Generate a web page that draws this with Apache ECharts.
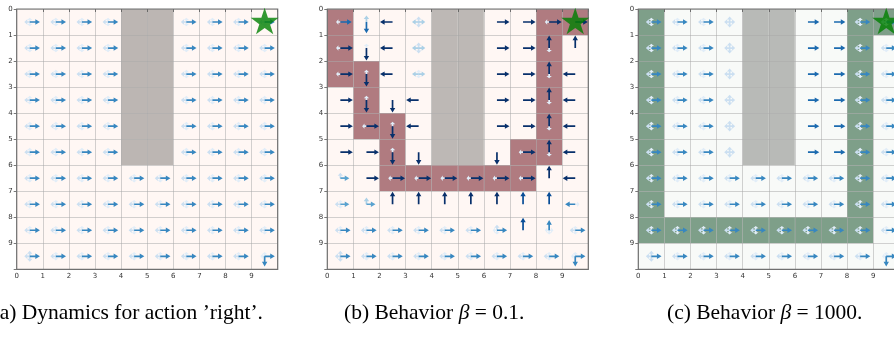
<!DOCTYPE html>
<html>
<head>
<meta charset="utf-8">
<script src="https://cdn.jsdelivr.net/npm/echarts@6/dist/echarts.min.js"></script>
<style>
  html, body { margin: 0; padding: 0; background: #ffffff; overflow: hidden; }
  #chart { width: 904px; height: 344px; }
</style>
</head>
<body>
<div id="chart"></div>
<script>
// Tick labels shown on both axes of every gridworld
const ticks = [0, 1, 2, 3, 4, 5, 6, 7, 8, 9];

// Goal cell [column, row]
const goal = [9, 0];

// Cell layouts: '.' free cell, '#' wall, 'x' highlighted trajectory cell
const layoutA = [
  '....##....', '....##....', '....##....', '....##....', '....##....',
  '....##....', '..........', '..........', '..........', '..........'
];
const layoutB = [
  'x...##..xx', 'x...##..x.', 'xx..##..x.', '.x..##..x.', '.xx.##..x.',
  '..x.##.xx.', '..xxxxxx..', '..........', '..........', '..........'
];
const layoutC = [
  'x...##..xx', 'x...##..x.', 'x...##..x.', 'x...##..x.', 'x...##..x.',
  'x...##..x.', 'x.......x.', 'x.......x.', 'xxxxxxxxx.', '..........'
];

// Arrow strengths per cell, four digits for up / down / left / right (0 = no arrow, 9 = strongest)
const arrowsA = [
  '1126 1126 1126 1126 ---- ---- 1126 1126 1126 1126',
  '1126 1126 1126 1126 ---- ---- 1126 1126 1126 1126',
  '1126 1126 1126 1126 ---- ---- 1126 1126 1126 1126',
  '1126 1126 1126 1126 ---- ---- 1126 1126 1126 1126',
  '1126 1126 1126 1126 ---- ---- 1126 1126 1126 1126',
  '1126 1126 1126 1126 ---- ---- 1126 1126 1126 1126',
  '1126 1126 1126 1126 1126 1126 1126 1126 1126 1126',
  '1126 1126 1126 1126 1126 1126 1126 1126 1126 1126',
  '1126 1126 1126 1126 1126 1126 1126 1126 1126 1126',
  '2226 1126 1126 1126 1126 1126 1126 1126 1126 1616'
];
const arrowsB = [
  '0017 3700 0090 2233 ---- ---- 0009 0009 0019 0009',
  '0019 1900 0090 2233 ---- ---- 0009 0009 9100 9000',
  '0019 1900 0090 1133 ---- ---- 0009 0009 9100 0090',
  '0009 1900 0900 0090 ---- ---- 0009 0009 9100 0090',
  '0009 0019 1900 0090 ---- ---- 0009 0009 9100 0090',
  '0009 0009 1900 0900 ---- ---- 0900 0019 9100 0090',
  '2005 0009 0019 0019 0019 0019 0019 0019 9000 0090',
  '1125 3005 9000 9000 9000 9000 9000 8000 8000 0061',
  '1126 1126 1126 1126 1126 1126 2116 8000 6111 1126',
  '2226 1126 1126 1126 1126 1126 1126 1126 1126 1616'
];
const arrowsC = [
  '1126 1126 1126 2222 ---- ---- 0007 0007 1126 1126',
  '1126 1126 1126 2222 ---- ---- 0007 0007 1126 1126',
  '1126 1126 1126 2222 ---- ---- 0007 0007 1126 1126',
  '1126 1126 1126 2222 ---- ---- 0007 0007 1126 1126',
  '1126 1126 1126 2222 ---- ---- 0007 0007 1126 1126',
  '1126 1126 1126 2222 ---- ---- 0007 0007 1126 1126',
  '1126 1126 1126 1126 1126 1126 1126 1126 1126 1126',
  '1126 1126 1126 1126 1126 1126 1126 1126 1126 1126',
  '1126 1126 1126 1126 1126 1126 1126 1126 1126 1126',
  '2226 1126 1126 1126 1126 1126 1126 1126 1126 1616'
];

// Panel captions
const captionA = '(a) Dynamics for action \u2019right\u2019.';
const captionB = ['(b) Behavior ', '\u03b2', ' = 0.1.'];
const captionC = ['(c) Behavior ', '\u03b2', ' = 1000.'];

// ---- drawing ----
const panels = [
  { layout: layoutA, arrows: arrowsA, left: 16.7,  fills: { '.': '#fff7f4', '#': '#bcb6b3', 'x': '#b07b80' } },
  { layout: layoutB, arrows: arrowsB, left: 327.3, fills: { '.': '#fff7f4', '#': '#bdb8b5', 'x': '#b07b80' } },
  { layout: layoutC, arrows: arrowsC, left: 638.3, fills: { '.': '#f8faf8', '#': '#b8bab7', 'x': '#7e9f89' } }
];

const BLUES = ['#f7fbff', '#deebf7', '#c6dbef', '#9ecae1', '#6baed6', '#4292c6', '#2171b5', '#08519c', '#08306b'];
function hexRgb(h) { return [1, 3, 5].map(i => parseInt(h.substr(i, 2), 16)); }
function blues(p) {
  const t = Math.max(0, Math.min(1, p)) * 8;
  const i = Math.min(7, Math.floor(t));
  const f = t - i;
  const a = hexRgb(BLUES[i]), b = hexRgb(BLUES[i + 1]);
  return 'rgb(' + a.map((v, k) => Math.round(v + (b[k] - v) * f)).join(',') + ')';
}

const DIRS = [[0, -1], [0, 1], [-1, 0], [1, 0]]; // up, down, left, right (rows grow downward)

function cellData(layout) {
  const out = [];
  layout.forEach((row, r) => row.split('').forEach((ch, c) => out.push([c, r, '.#x'.indexOf(ch)])));
  return out;
}
function arrowData(rows) {
  const out = [];
  rows.forEach((row, r) => row.split(' ').forEach((tok, c) => {
    if (tok === '----') return;
    tok.split('').forEach((ch, k) => {
      const d = +ch;
      if (d > 0) out.push([c + 0.5, r + 0.5, DIRS[k][0], DIRS[k][1], d]);
    });
  }));
  out.sort((a, b) => a[4] - b[4]);
  return out;
}

function starPath() {
  const R = 50, rIn = R * 0.381966, pts = [];
  for (let k = 0; k < 10; k++) {
    const ang = (-90 + 36 * k) * Math.PI / 180;
    const rad = k % 2 === 0 ? R : rIn;
    pts.push((50 + rad * Math.cos(ang)).toFixed(2) + ' ' + (50 + rad * Math.sin(ang)).toFixed(2));
  }
  return 'path://M' + pts.join(' L') + ' Z';
}
const STAR = starPath();

const grids = [], xAxes = [], yAxes = [], series = [];
const axisLabelFmt = v => (ticks.indexOf(v) >= 0 ? String(v) : '');

panels.forEach((pn, i) => {
  grids.push({ left: pn.left, top: 9, width: 261, height: 260.3, show: true,
    borderColor: '#707070', borderWidth: 1.2, backgroundColor: 'transparent', z: 4 });
  const common = {
    gridIndex: i, type: 'value', min: 0, max: 10, interval: 1, z: 3,
    axisLine: { show: false },
    axisTick: { show: true, length: 3, lineStyle: { color: '#555', width: 0.8 } },
    splitLine: { show: true, lineStyle: { color: 'rgba(165,165,165,0.5)', width: 1 } },
    axisLabel: { fontSize: 7, color: '#333', fontFamily: 'DejaVu Sans', formatter: axisLabelFmt }
  };
  xAxes.push(Object.assign({}, common, { axisLabel: Object.assign({}, common.axisLabel, { margin: 3 }) }));
  yAxes.push(Object.assign({}, common, { inverse: true, axisLabel: Object.assign({}, common.axisLabel, { margin: 4 }) }));

  const fillList = ['.', '#', 'x'].map(k => pn.fills[k]);
  series.push({
    type: 'custom', xAxisIndex: i, yAxisIndex: i, z: 1, silent: true,
    encode: { x: 0, y: 1 },
    data: cellData(pn.layout),
    renderItem: (params, api) => {
      const c = api.value(0), r = api.value(1), t = api.value(2);
      const p0 = api.coord([c, r]), p1 = api.coord([c + 1, r + 1]);
      return { type: 'rect',
        shape: { x: Math.min(p0[0], p1[0]), y: Math.min(p0[1], p1[1]),
                 width: Math.abs(p1[0] - p0[0]), height: Math.abs(p1[1] - p0[1]) },
        style: { fill: fillList[t] } };
    }
  });

  series.push({
    type: 'custom', xAxisIndex: i, yAxisIndex: i, z: 5, silent: true,
    encode: { x: 0, y: 1 },
    data: arrowData(pn.arrows),
    renderItem: (params, api) => {
      const x = api.value(0), y = api.value(1), dx = api.value(2), dy = api.value(3), d = api.value(4);
      const L = Math.min(0.48, 0.12 + 0.045 * d);
      const p0 = api.coord([x, y]), p1 = api.coord([x + dx * L, y + dy * L]);
      const vx = p1[0] - p0[0], vy = p1[1] - p0[1];
      const len = Math.hypot(vx, vy) || 1;
      const ux = vx / len, uy = vy / len, nx = -uy, ny = ux;
      const w = 0.85, hw = 2.7, hl = Math.min(4.6, len * 0.55);
      const bx = p1[0] - ux * hl, by = p1[1] - uy * hl;
      const pts = [
        [p0[0] + nx * w, p0[1] + ny * w], [bx + nx * w, by + ny * w], [bx + nx * hw, by + ny * hw],
        [p1[0], p1[1]],
        [bx - nx * hw, by - ny * hw], [bx - nx * w, by - ny * w], [p0[0] - nx * w, p0[1] - ny * w]
      ];
      return { type: 'polygon', shape: { points: pts }, style: { fill: blues(d / 9) } };
    }
  });

  series.push({
    type: 'scatter', xAxisIndex: i, yAxisIndex: i, z: 8, silent: true,
    symbol: STAR, symbolSize: 28, symbolKeepAspect: true, symbolOffset: [0, -1],
    itemStyle: { color: '#008000' },
    data: [[goal[0] + 0.5, goal[1] + 0.5]]
  });
});

const capFont = '"Liberation Serif", "Times New Roman", serif';
function caption(x, parts) {
  const text = Array.isArray(parts) ? parts[0] + '{i|' + parts[1] + '}' + parts[2] : parts;
  return { type: 'text', x: x, y: 313, z: 20, silent: true,
    style: { text: text, fontFamily: capFont, fontSize: 21.5, fill: '#000', verticalAlign: 'middle',
      rich: { i: { fontFamily: capFont, fontSize: 21.5, fontStyle: 'italic', fill: '#000' } } } };
}

const chart = echarts.init(document.getElementById('chart'), null, { renderer: 'canvas' });
chart.setOption({
  animation: false,
  backgroundColor: '#ffffff',
  grid: grids,
  xAxis: xAxes,
  yAxis: yAxes,
  series: series,
  graphic: [caption(-7.5, captionA), caption(344, captionB), caption(667, captionC)]
});
</script>
</body>
</html>
